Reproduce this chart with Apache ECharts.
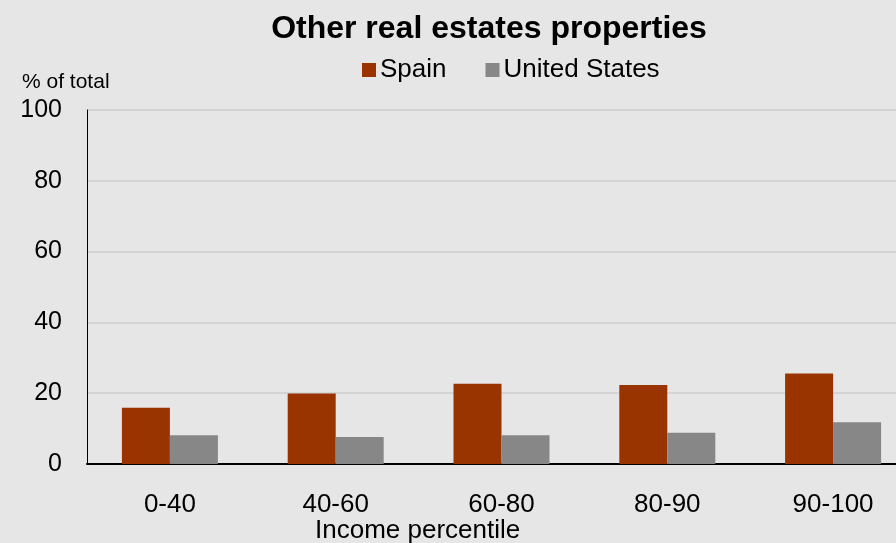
<!DOCTYPE html>
<html><head><meta charset="utf-8">
<script src="https://cdn.jsdelivr.net/npm/echarts@6/dist/echarts.min.js"></script>
<style>html,body{margin:0;padding:0;background:#e6e6e6}#c{width:896px;height:543px}</style>
</head><body><div id="c"></div>
<script>
const categories = ['0-40', '40-60', '60-80', '80-90', '90-100'];
const spain = [15.9, 19.9, 22.7, 22.3, 25.6];
const unitedStates = [8.1, 7.6, 8.1, 8.8, 11.8];
const yTicks = [0, 20, 40, 60, 80, 100];

const FONT = '"Liberation Sans", Arial, sans-serif';
const chart = echarts.init(document.getElementById('c'), null, {renderer: 'canvas'});
chart.setOption({
  backgroundColor: '#e6e6e6',
  animation: false,
  title: {
    text: 'Other real estates properties',
    left: 484, top: 8, textAlign: 'center',
    textStyle: {fontFamily: FONT, fontSize: 32, fontWeight: 'bold', color: '#000'}
  },
  legend: {
    data: ['Spain', 'United States'],
    left: 357, top: 52,
    itemWidth: 14, itemHeight: 14, itemGap: 39,
    icon: 'rect',
    textStyle: {fontFamily: FONT, fontSize: 26, color: '#000', padding: [0, 0, 0, -1]}
  },
  grid: {left: 87, top: 110, bottom: 79, right: -20, containLabel: false, outerBoundsMode: 'none'},
  xAxis: {
    type: 'category',
    data: categories,
    axisLine: {lineStyle: {color: '#000', width: 2}},
    axisTick: {show: false},
    axisLabel: {fontFamily: FONT, fontSize: 26, color: '#000', margin: 28}
  },
  yAxis: {
    type: 'value', min: yTicks[0], max: yTicks[yTicks.length - 1], interval: 20,
    axisLine: {show: true, lineStyle: {color: '#000', width: 1}},
    axisTick: {show: false},
    axisLabel: {fontFamily: FONT, fontSize: 25, color: '#000', margin: 25},
    splitLine: {lineStyle: {color: '#d4d4d4', width: 2}}
  },
  graphic: [
    {type: 'text', left: 22, top: 72, style: {text: '% of total', font: '21px ' + FONT, fill: '#000'}},
    {type: 'text', left: 315, top: 518, style: {text: 'Income percentile', font: '26px ' + FONT, fill: '#000'}}
  ],
  series: [
    {name: 'Spain', type: 'bar', data: spain, barWidth: 48, barGap: '0%',
     itemStyle: {color: '#993300'}},
    {name: 'United States', type: 'bar', data: unitedStates, barWidth: 48,
     itemStyle: {color: '#878787'}}
  ]
});
</script></body></html>
